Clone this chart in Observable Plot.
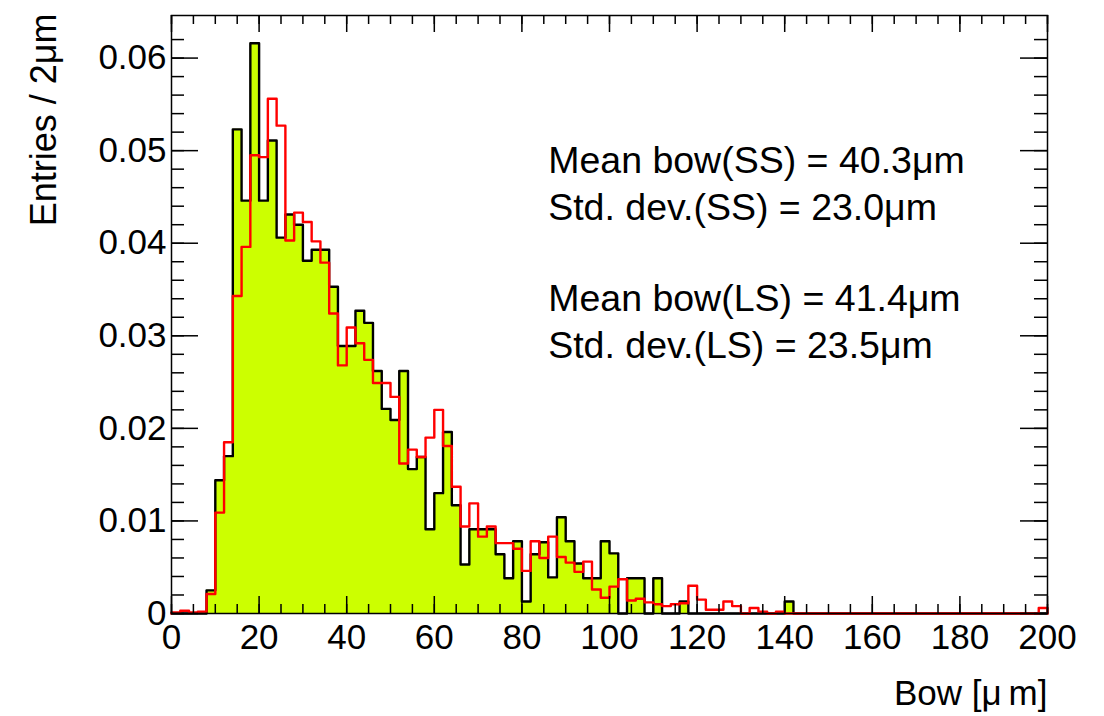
<!DOCTYPE html>
<html><head><meta charset="utf-8">
<script src="https://cdn.jsdelivr.net/npm/d3@7"></script>
<script src="https://cdn.jsdelivr.net/npm/@observablehq/plot@0.6"></script>
<style>body{margin:0;background:#fff}</style>
</head><body><div id="chart"></div>
<script>
// bin low edges (2 µm bins, 0–200 µm)
const binLow = d3.range(0, 200, 2);
const binWidth = 2;

// SS (black, filled) – normalised entries per bin
const ssEntries = [
  0, 0, 0, 0, 0.0025, 0.0144, 0.0170, 0.0523, 0.0446, 0.0616,
  0.0446, 0.0511, 0.0406, 0.0431, 0.0420, 0.0381, 0.0393, 0.0393, 0.0353, 0.0289,
  0.0289, 0.0327, 0.0314, 0.0262, 0.0221, 0.0209, 0.0262, 0.0156, 0.0169, 0.0091,
  0.0130, 0.0196, 0.0117, 0.0053, 0.0091, 0.0091, 0.0091, 0.0064, 0.0038, 0.0078,
  0.0013, 0.0064, 0.0077, 0.0039, 0.0104, 0.0078, 0.0054, 0.0038, 0.0038, 0.0078,
  0.0065, 0, 0.0038, 0.0038, 0, 0.0038, 0, 0, 0.0013, 0,
  0, 0, 0, 0, 0, 0, 0, 0, 0, 0,
  0.0013, 0, 0, 0, 0, 0, 0, 0, 0, 0,
  0, 0, 0, 0, 0, 0, 0, 0, 0, 0,
  0, 0, 0, 0, 0, 0, 0, 0, 0, 0
];

// LS (red outline)
const lsEntries = [
  0.0001, 0.0003, 0.0001, 0.0002, 0.0021, 0.0109, 0.0185, 0.0343, 0.0396, 0.0495,
  0.0493, 0.0556, 0.0527, 0.0403, 0.0433, 0.0423, 0.0402, 0.0379, 0.0324, 0.0268,
  0.0309, 0.0292, 0.0274, 0.0249, 0.0249, 0.0234, 0.0162, 0.0177, 0.0169, 0.0190,
  0.0220, 0.0181, 0.0137, 0.0094, 0.0119, 0.0083, 0.0094, 0.0076, 0.0076, 0.0070,
  0.0046, 0.0078, 0.0060, 0.0083, 0.0061, 0.0055, 0.0045, 0.0056, 0.0026, 0.0017,
  0.0029, 0.0037, 0.0014, 0.0016, 0.0012, 0.0010, 0.0008, 0.0010, 0.0011, 0.0030,
  0.0015, 0.0004, 0.0004, 0.0013, 0.0008, 0, 0.0006, 0.0002, 0, 0.0002,
  0, 0, 0, 0, 0, 0, 0, 0, 0, 0,
  0, 0, 0, 0, 0, 0, 0, 0, 0, 0,
  0, 0, 0, 0, 0, 0, 0, 0, 0, 0.0006
];

const xTicksMajor = [0, 20, 40, 60, 80, 100, 120, 140, 160, 180, 200];
const xTickLabels = ["0", "20", "40", "60", "80", "100", "120", "140", "160", "180", "200"];
const xTicksMinor = d3.range(0, 201, 5);
const yTicksMajor = [0, 0.01, 0.02, 0.03, 0.04, 0.05, 0.06];
const yTickLabels = ["0", "0.01", "0.02", "0.03", "0.04", "0.05", "0.06"];
const yTicksMinor = d3.range(0, 32).map(i => i * 0.002);

const statLines = [
  "Mean bow(SS) = 40.3\u03BCm",
  "Std. dev.(SS) = 23.0\u03BCm",
  "Mean bow(LS) = 41.4\u03BCm",
  "Std. dev.(LS) = 23.5\u03BCm"
];
const statY = [0.0489, 0.0438, 0.0340, 0.0289];
const xTitle = "Bow [\u03BC\u2009m]";
const yTitle = "Entries / 2\u03BCm";

// step tables built from the arrays
function outline(vals) {
  const pts = [{x: binLow[0], y: 0}];
  vals.forEach((v, i) => pts.push({x: binLow[i], y: v}));
  pts.push({x: binLow[vals.length - 1] + binWidth, y: vals[vals.length - 1]});
  pts.push({x: binLow[vals.length - 1] + binWidth, y: 0});
  return pts;
}
function areaPts(vals) {
  const pts = vals.map((v, i) => ({x: binLow[i], y: v}));
  pts.push({x: binLow[vals.length - 1] + binWidth, y: vals[vals.length - 1]});
  return pts;
}
const ssLine = outline(ssEntries);
const ssArea = areaPts(ssEntries);
const lsLine = outline(lsEntries);

const W = 1104, H = 716;
const mL = 171, mR = 57, mT = 15, mB = 103;
const innerW = W - mL - mR, innerH = H - mT - mB;
const font = "'Liberation Sans', Arial, Helvetica, sans-serif";
const fs = 35;

const chart = Plot.plot({
  width: W, height: H,
  marginLeft: mL, marginRight: mR, marginTop: mT, marginBottom: mB,
  x: {domain: [0, 200]},
  y: {domain: [0, 0.0646]},
  style: {fontFamily: font, fontSize: fs + "px", background: "#fff", color: "#000"},
  marks: [
    Plot.areaY(ssArea, {x: "x", y: "y", curve: "step-after", fill: "#ccff00"}),
    Plot.line(ssLine, {x: "x", y: "y", curve: "step-after", stroke: "#000", strokeWidth: 2.4}),
    Plot.line(lsLine, {x: "x", y: "y", curve: "step-after", stroke: "#ff0000", strokeWidth: 2.4}),
    Plot.frame({stroke: "#000", strokeWidth: 1.5}),
    // left / right y ticks
    Plot.tickY(yTicksMinor, {y: d => d, stroke: "#000", strokeWidth: 1.5, insetRight: innerW - 13}),
    Plot.tickY(yTicksMajor, {y: d => d, stroke: "#000", strokeWidth: 1.5, insetRight: innerW - 27}),
    Plot.tickY(yTicksMinor, {y: d => d, stroke: "#000", strokeWidth: 1.5, insetLeft: innerW - 13}),
    Plot.tickY(yTicksMajor, {y: d => d, stroke: "#000", strokeWidth: 1.5, insetLeft: innerW - 27}),
    // bottom / top x ticks
    Plot.tickX(xTicksMinor, {x: d => d, stroke: "#000", strokeWidth: 1.5, insetTop: innerH - 9}),
    Plot.tickX(xTicksMajor, {x: d => d, stroke: "#000", strokeWidth: 1.5, insetTop: innerH - 17}),
    Plot.tickX(xTicksMinor, {x: d => d, stroke: "#000", strokeWidth: 1.5, insetBottom: innerH - 9}),
    Plot.tickX(xTicksMajor, {x: d => d, stroke: "#000", strokeWidth: 1.5, insetBottom: innerH - 17}),
    Plot.axisX(xTicksMajor, {tickSize: 0, tickPadding: 11, label: null, fontSize: fs,
      tickFormat: d => xTickLabels[xTicksMajor.indexOf(d)]}),
    Plot.axisY(yTicksMajor, {tickSize: 0, tickPadding: 5, label: null, fontSize: fs,
      tickFormat: d => yTickLabels[yTicksMajor.indexOf(d)]}),
    Plot.text(statLines, {x: 86, y: (d, i) => statY[i], text: d => d, textAnchor: "start",
      lineAnchor: "middle", fontSize: 37.5, fill: "#000"}),
    Plot.text([xTitle], {frameAnchor: "bottom-right", text: d => d, textAnchor: "end",
      lineAnchor: "middle", dy: 80, fontSize: fs, fill: "#000"}),
    Plot.text([yTitle], {frameAnchor: "top-left", text: d => d, textAnchor: "end",
      lineAnchor: "middle", rotate: -90, dx: -127, dy: -2, fontSize: 36, fill: "#000"})
  ]
});
document.getElementById("chart").appendChild(chart);
</script>
</body></html>
